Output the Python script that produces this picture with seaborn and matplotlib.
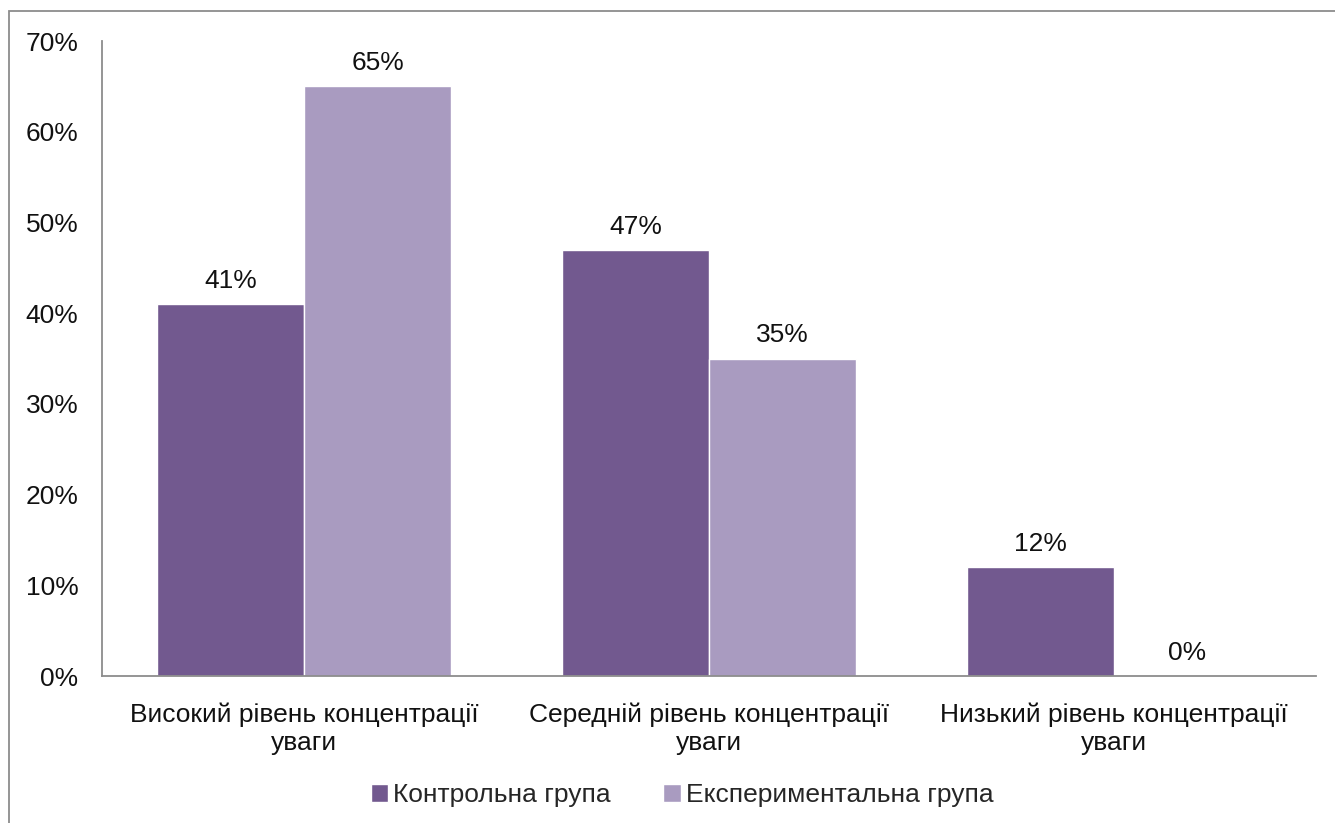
import matplotlib
matplotlib.use("Agg")
import matplotlib.pyplot as plt
import seaborn as sns
import pandas as pd
from matplotlib.ticker import FuncFormatter
from matplotlib.patches import Rectangle

categories = ["Високий рівень концентрації\nуваги",
              "Середній рівень концентрації\nуваги",
              "Низький рівень концентрації\nуваги"]
series_names = ["Контрольна група", "Експериментальна група"]
control = [0.41, 0.47, 0.12]
experimental = [0.65, 0.35, 0.00]
colors = ["#72598F", "#A99BC0"]

df = pd.DataFrame({
    "cat": categories * 2,
    "group": [series_names[0]] * 3 + [series_names[1]] * 3,
    "val": control + experimental,
})

sns.set_theme(style="white")
plt.rcParams["font.family"] = ["Liberation Sans", "DejaVu Sans"]

fig = plt.figure(figsize=(13.35, 8.23), dpi=100)
ax = fig.add_axes([102/1335, 1-676/823, (1316-102)/1335, (676-41)/823])

sns.barplot(data=df, x="cat", y="val", hue="group", palette=colors,
            width=0.727, ax=ax, saturation=1, legend=True)

for c in ax.containers:
    ax.bar_label(c, labels=[f"{v*100:.0f}%" for v in c.datavalues],
                 padding=8, fontsize=19, color="#111111")

ax.set_ylim(0, 0.7)
ax.set_yticks([i/10 for i in range(8)])
ax.yaxis.set_major_formatter(FuncFormatter(lambda v, p: f"{v*100:.0f}%"))
ax.tick_params(axis="both", length=0, labelsize=19, colors="#111111")
ax.tick_params(axis="y", pad=17)
ax.tick_params(axis="x", pad=19)
ax.set_xlabel("")
ax.set_ylabel("")
for s in ["top", "right"]:
    ax.spines[s].set_visible(False)
for s in ["left", "bottom"]:
    ax.spines[s].set_color("#8c8c8c")
    ax.spines[s].set_linewidth(1.3)
ax.grid(False)

ax.legend_.remove()
handles, labels = ax.get_legend_handles_labels()
fig.legend(handles, labels, loc="center", bbox_to_anchor=(682/1335, 1-795/823),
           ncol=2, frameon=False, fontsize=19, handlelength=0.65,
           handleheight=0.65, handletextpad=0.2, columnspacing=2.0)

fig.patches.append(Rectangle((9/1335, -0.05), 1.2, 1-11/823+0.05,
                             transform=fig.transFigure, fill=False,
                             edgecolor="#8c8c8c", linewidth=1.3))

fig.savefig("out.png", dpi=100)
